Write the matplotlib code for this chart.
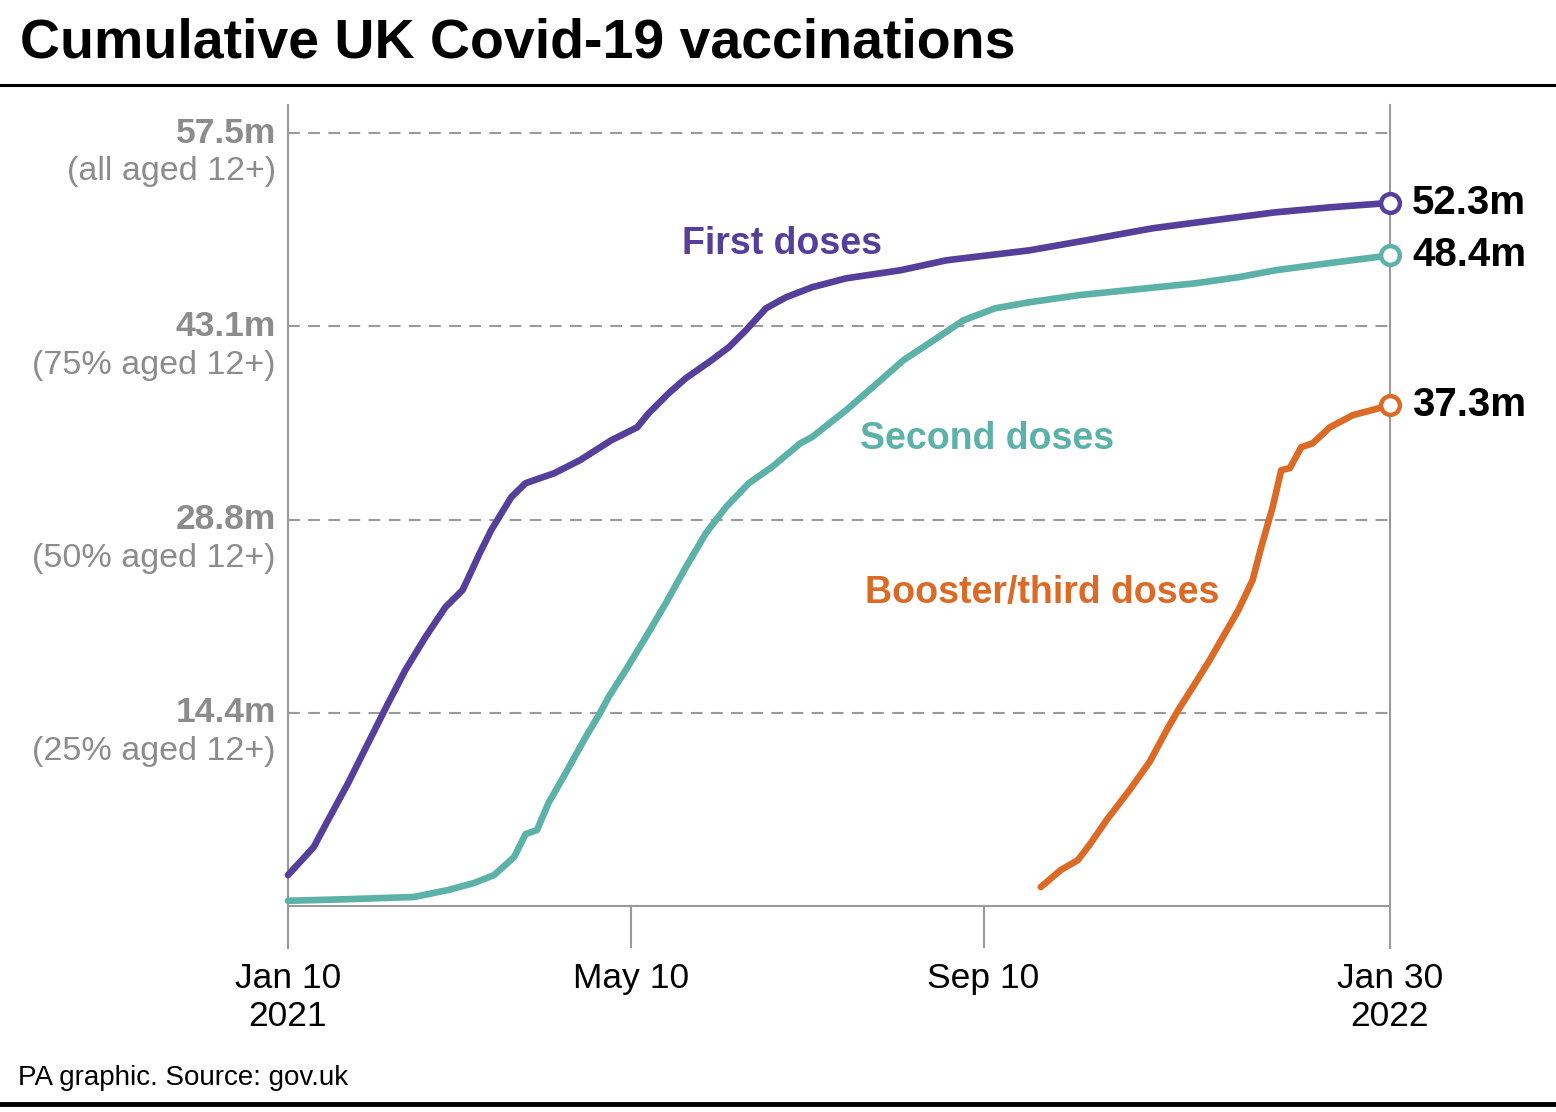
import matplotlib
matplotlib.use("Agg")
import matplotlib.pyplot as plt
import matplotlib.transforms as mtransforms
import numpy as np

# ---------------- data (millions) ----------------
first_dates = ["2021-01-10", "2021-01-19", "2021-01-24", "2021-01-31", "2021-02-07",
               "2021-02-14", "2021-02-20", "2021-02-27", "2021-03-06", "2021-03-12",
               "2021-03-18", "2021-03-22", "2021-03-29", "2021-04-03", "2021-04-13",
               "2021-04-22", "2021-05-03", "2021-05-12", "2021-05-16", "2021-05-23",
               "2021-05-29", "2021-06-07", "2021-06-13", "2021-06-19", "2021-06-26",
               "2021-07-03", "2021-07-12", "2021-07-24", "2021-08-12", "2021-08-28",
               "2021-09-26", "2021-10-16", "2021-11-08", "2021-11-29", "2021-12-21",
               "2022-01-09", "2022-01-30"]
first_vals = [2.30, 4.39, 6.39, 9.14, 12.12,
              15.09, 17.55, 20.00, 22.23, 23.50,
              26.25, 27.96, 30.41, 31.45, 32.19,
              33.16, 34.65, 35.61, 36.65, 38.14,
              39.26, 40.60, 41.56, 42.83, 44.46,
              45.28, 46.02, 46.69, 47.29, 48.03,
              48.77, 49.52, 50.41, 51.00, 51.60,
              51.97, 52.30]

second_dates = ["2021-01-10", "2021-01-30", "2021-02-23", "2021-03-07", "2021-03-16",
                "2021-03-23", "2021-03-30", "2021-04-03", "2021-04-07", "2021-04-11",
                "2021-04-17", "2021-04-24", "2021-04-29", "2021-05-02", "2021-05-08",
                "2021-05-15", "2021-05-22", "2021-05-29", "2021-06-05", "2021-06-12",
                "2021-06-20", "2021-06-28", "2021-07-08", "2021-07-12", "2021-07-24",
                "2021-08-05", "2021-08-13", "2021-08-22", "2021-09-03", "2021-09-14",
                "2021-09-26", "2021-10-13", "2021-11-06", "2021-11-23", "2021-12-08",
                "2021-12-21", "2022-01-03", "2022-01-30"]
second_vals = [0.39, 0.50, 0.67, 1.19, 1.71,
               2.30, 3.64, 5.35, 5.65, 7.66,
               9.89, 12.57, 14.35, 15.54, 17.55,
               20.00, 22.53, 25.20, 27.73, 29.67,
               31.45, 32.64, 34.42, 34.87, 36.88,
               39.10, 40.60, 41.86, 43.57, 44.46,
               44.91, 45.43, 45.95, 46.32, 46.77,
               47.29, 47.66, 48.40]

booster_dates = ["2021-09-30", "2021-10-07", "2021-10-13", "2021-10-17", "2021-10-23",
                 "2021-10-31", "2021-11-07", "2021-11-13", "2021-11-17", "2021-11-23",
                 "2021-11-28", "2021-12-04", "2021-12-08", "2021-12-13", "2021-12-16",
                 "2021-12-20", "2021-12-23", "2021-12-26", "2021-12-30", "2022-01-03",
                 "2022-01-09", "2022-01-17", "2022-01-30"]
booster_vals = [1.41, 2.68, 3.42, 4.54, 6.39,
                8.62, 10.71, 13.09, 14.57, 16.58,
                18.29, 20.52, 22.00, 24.24, 26.69,
                29.67, 32.42, 32.57, 34.13, 34.42,
                35.61, 36.51, 37.25]

series_names = ["First doses", "Second doses", "Booster/third doses"]
end_labels = ["52.3m", "48.4m", "37.3m"]

y_ticks = [14.375, 28.75, 43.125, 57.5]
y_tick_main = ["14.4m", "28.8m", "43.1m", "57.5m"]
y_tick_sub = ["(25% aged 12+)", "(50% aged 12+)", "(75% aged 12+)", "(all aged 12+)"]

x_tick_dates = ["2021-01-10", "2021-05-10", "2021-09-10", "2022-01-30"]
x_tick_labels = ["Jan 10\n2021", "May 10", "Sep 10", "Jan 30\n2022"]

title = "Cumulative UK Covid-19 vaccinations"
source = "PA graphic. Source: gov.uk"

# ---------------- style ----------------
PURPLE = "#553f9a"
TEAL = "#5cb2a8"
ORANGE = "#dc6a27"
GREY = "#8c8c8c"
LINEGREY = "#9a9a9a"
plt.rcParams["font.family"] = ["Liberation Sans", "DejaVu Sans"]
plt.rcParams["lines.scale_dashes"] = False

W, H = 1556, 1112
fig = plt.figure(figsize=(W / 100, H / 100), dpi=100)
fig.patch.set_facecolor("white")

def px(x, y):
    return x / W, 1 - y / H

ax_left, ax_right = 288, 1390
ax_top, ax_bot = 105, 948
ax = fig.add_axes([ax_left / W, 1 - ax_bot / H, (ax_right - ax_left) / W, (ax_bot - ax_top) / H])
ax.set_facecolor("none")

to_d = lambda lst: np.array(lst, dtype="datetime64[D]")
xmin = np.datetime64("2021-01-10")
xmax = np.datetime64("2022-01-30")
ax.set_xlim(xmin, xmax)
# zero at y=906, 57.5 at y=133
ppm = (906 - 133) / 57.5
ax.set_ylim(-(ax_bot - 906) / ppm, (906 - ax_top) / ppm)

for s in ["top", "bottom"]:
    ax.spines[s].set_visible(False)
for s in ["left", "right"]:
    ax.spines[s].set_color(LINEGREY)
    ax.spines[s].set_linewidth(1.5)
ax.set_xticks([])
ax.set_yticks([])

# gridlines
for v in y_ticks:
    ax.axhline(v, color=LINEGREY, lw=1.5, ls=(0, (8.5, 6)), zorder=1)
ax.axhline(0, color=LINEGREY, lw=1.5, zorder=1)

# x ticks (below the zero line)
tick_d = to_d(x_tick_dates)
ybot = ax.get_ylim()[0]
for d in tick_d[1:3]:
    ax.plot([d, d], [ybot, 0], color=LINEGREY, lw=1.5, zorder=1)

# series
series = [(first_dates, first_vals, PURPLE), (second_dates, second_vals, TEAL),
          (booster_dates, booster_vals, ORANGE)]
for (ds, vs, c), lab in zip(series, end_labels):
    xd = to_d(ds)
    ax.plot(xd, vs, color=c, lw=4.8, solid_capstyle="round", solid_joinstyle="round",
            zorder=3, clip_on=False)
    ax.plot(xd[-1], vs[-1], "o", ms=13.5, mfc="white", mec=c, mew=3.2, zorder=4, clip_on=False)
    ax.annotate(lab, (xd[-1], vs[-1]), xytext=(16, 0), textcoords="offset points",
                ha="left", va="center", fontsize=29, fontweight="bold", color="black",
                annotation_clip=False)

# series name labels
ax.text(*px(782, 244), series_names[0], transform=fig.transFigure, ha="center", va="center",
        fontsize=27, fontweight="bold", color=PURPLE)
ax.text(*px(987, 439), series_names[1], transform=fig.transFigure, ha="center", va="center",
        fontsize=27, fontweight="bold", color=TEAL)
ax.text(*px(1042, 593), series_names[2], transform=fig.transFigure, ha="center", va="center",
        fontsize=27, fontweight="bold", color=ORANGE)

# y tick labels
trans = mtransforms.blended_transform_factory(fig.transFigure, ax.transData)
for v, m, sub in zip(y_ticks, y_tick_main, y_tick_sub):
    ax.text(276 / W, v, m, transform=trans, ha="right", va="center",
            fontsize=25.5, fontweight="bold", color=GREY)
    ax.annotate(sub, (276 / W, v), xycoords=trans, xytext=(0, -28), textcoords="offset points",
                ha="right", va="center", fontsize=24.5, color=GREY, annotation_clip=False)

# x tick labels
transx = mtransforms.blended_transform_factory(ax.transData, fig.transFigure)
for d, lab in zip(tick_d, x_tick_labels):
    ax.text(d, 1 - 962 / H, lab, transform=transx, ha="center", va="top",
            fontsize=25.5, color="black", linespacing=1.2)

# title, rules, source
fig.text(20 / W, 1 - 44 / H, title, ha="left", va="center", fontsize=40,
         fontweight="bold", color="black")
fig.add_artist(plt.Line2D([0, 1], [1 - 85 / H, 1 - 85 / H], color="black", lw=2.2,
                          transform=fig.transFigure))
fig.add_artist(plt.Line2D([0, 1], [1 - 1104 / H, 1 - 1104 / H], color="black", lw=3.5,
                          transform=fig.transFigure))
fig.text(18 / W, 1 - 1078 / H, source, ha="left", va="center", fontsize=20, color="black")

fig.savefig("out.png", dpi=100, facecolor="white")
